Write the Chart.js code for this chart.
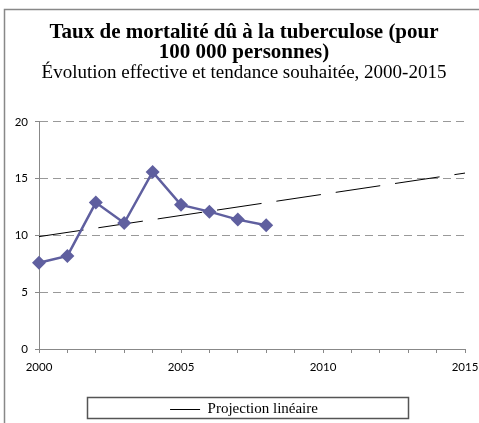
<!DOCTYPE html>
<html lang="fr">
<head>
    <meta charset="UTF-8">
    <title>Tuberculose</title>
    <script src="https://cdn.jsdelivr.net/npm/chart.js"></script>
    <style>
        body { margin: 0; background: #fff; }
    </style>
</head>
<body>
    <canvas id="chart" width="479" height="423"></canvas>
    <script>
        // valeurs
        const years = [2000, 2001, 2002, 2003, 2004, 2005, 2006, 2007, 2008];
        const rates = [7.6, 8.2, 12.9, 11.1, 15.6, 12.7, 12.1, 11.4, 10.9];
        const trendYears = [2000, 2015];
        const trendValues = [9.9, 15.5];
        const yTicks = [0, 5, 10, 15, 20];
        const xLabels = [2000, 2005, 2010, 2015];

        const tickFont = { family: 'Lato', size: 11.5 };

        // cadre gris + boîte de légende
        const framePlugin = {
            id: 'frame',
            afterDraw(chart) {
                const ctx = chart.ctx;
                ctx.save();
                ctx.strokeStyle = '#888';
                ctx.lineWidth = 1.5;
                ctx.strokeRect(4.5, 9.5, 500, 500);
                const lg = chart.legend;
                const cx = (lg.left + lg.right) / 2 + 4;
                ctx.strokeStyle = '#555';
                ctx.strokeRect(cx - 160.5, 397.5, 321, 21);
                ctx.restore();
            }
        };

        new Chart(document.getElementById('chart'), {
            type: 'line',
            data: {
                datasets: [
                    {
                        label: 'Taux',
                        data: years.map((y, i) => ({ x: y, y: rates[i] })),
                        borderColor: '#5F5F9F',
                        backgroundColor: '#5F5F9F',
                        borderWidth: 2.5,
                        pointStyle: 'rectRot',
                        pointRadius: 7,
                        pointBorderWidth: 0,
                        clip: false
                    },
                    {
                        label: 'Projection linéaire',
                        data: trendYears.map((y, i) => ({ x: y, y: trendValues[i] })),
                        borderColor: '#000',
                        borderWidth: 1,
                        borderDash: [45, 15],
                        pointRadius: 0,
                        clip: false
                    }
                ]
            },
            options: {
                responsive: false,
                animation: false,
                layout: { padding: { left: 9, right: 0, top: 0, bottom: -4 } },
                plugins: {
                    tooltip: { enabled: false },
                    title: {
                        display: true,
                        text: ['Taux de mortalité dû à la tuberculose (pour', '100 000 personnes)'],
                        color: '#000',
                        font: { family: 'Liberation Serif', size: 21, weight: 'bold', lineHeight: 0.952 },
                        padding: { top: 23, bottom: 1 }
                    },
                    subtitle: {
                        display: true,
                        text: 'Évolution effective et tendance souhaitée, 2000-2015',
                        color: '#000',
                        font: { family: 'Liberation Serif', size: 19, lineHeight: 1 },
                        padding: { top: 0, bottom: 39 }
                    },
                    legend: {
                        position: 'bottom',
                        labels: {
                            color: '#000',
                            font: { family: 'Liberation Serif', size: 15 },
                            boxWidth: 30,
                            boxHeight: 1,
                            padding: 0,
                            generateLabels: () => [{
                                text: 'Projection linéaire',
                                fillStyle: '#000',
                                strokeStyle: '#000',
                                lineWidth: 0,
                                hidden: false,
                                datasetIndex: 1
                            }]
                        }
                    }
                },
                scales: {
                    x: {
                        type: 'linear',
                        min: 2000,
                        max: 2015,
                        afterFit: s => { s.height = 53; s.paddingLeft = 13; s.paddingRight = 13; },
                        afterBuildTicks: s => { s.ticks = []; for (let y = 2000; y <= 2015; y++) s.ticks.push({ value: y }); },
                        ticks: {
                            autoSkip: false,
                            maxRotation: 0,
                            color: '#000',
                            font: tickFont,
                            padding: 7,
                            callback: v => xLabels.includes(v) ? String(v) : ''
                        },
                        grid: { drawOnChartArea: false, tickLength: 4, color: '#888', tickColor: '#888' },
                        border: { color: '#888', width: 1 }
                    },
                    y: {
                        min: 0,
                        max: 20,
                        afterFit: s => { s.width = 30; },
                        afterBuildTicks: s => { s.ticks = yTicks.map(v => ({ value: v })); },
                        ticks: { color: '#000', font: tickFont, padding: 7 },
                        grid: { color: '#999', tickLength: 4, tickColor: '#888', tickBorderDash: [] },
                        border: { color: '#888', width: 1, dash: [8, 5] }
                    },
                    // espace vide à droite de la zone de tracé
                    yRight: {
                        position: 'right',
                        min: 0,
                        max: 20,
                        afterFit: s => { s.width = 14; },
                        ticks: { display: false },
                        grid: { display: false, drawOnChartArea: false },
                        border: { display: false }
                    }
                }
            },
            plugins: [framePlugin]
        });
    </script>
</body>
</html>
